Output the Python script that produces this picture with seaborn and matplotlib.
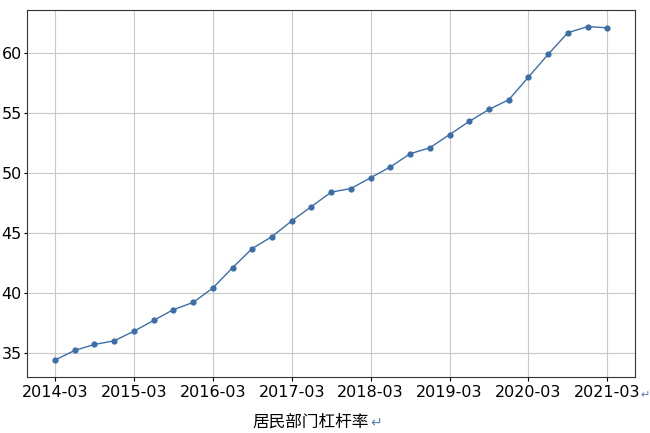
import pandas as pd
import matplotlib
matplotlib.use("Agg")
import matplotlib.pyplot as plt
import seaborn as sns

# ---- data ----
quarters = [
    "2014-03", "2014-06", "2014-09", "2014-12",
    "2015-03", "2015-06", "2015-09", "2015-12",
    "2016-03", "2016-06", "2016-09", "2016-12",
    "2017-03", "2017-06", "2017-09", "2017-12",
    "2018-03", "2018-06", "2018-09", "2018-12",
    "2019-03", "2019-06", "2019-09", "2019-12",
    "2020-03", "2020-06", "2020-09", "2020-12",
    "2021-03",
]
leverage = [
    34.4, 35.2, 35.7, 36.0,
    36.8, 37.7, 38.6, 39.2,
    40.4, 42.1, 43.7, 44.7,
    46.0, 47.2, 48.4, 48.7,
    49.6, 50.5, 51.6, 52.1,
    53.2, 54.3, 55.3, 56.1,
    58.0, 59.9, 61.7, 62.2,
    62.1,
]
tick_labels = ["2014-03", "2015-03", "2016-03", "2017-03",
               "2018-03", "2019-03", "2020-03", "2021-03"]

df = pd.DataFrame({"quarter": quarters, "leverage": leverage})
df["pos"] = range(len(df))

# ---- plot ----
fig, ax = plt.subplots(figsize=(6.5, 4.33), dpi=100)
sns.lineplot(data=df, x="pos", y="leverage", marker="o", color="#3c6ea8",
             linewidth=1, markersize=4.5, markeredgewidth=0, ax=ax)

tick_pos = [quarters.index(t) for t in tick_labels]
ax.set_xticks(tick_pos)
ax.set_xticklabels(tick_labels, fontsize=11.5)
ax.set_yticks([35, 40, 45, 50, 55, 60])
ax.tick_params(axis="y", labelsize=11.5, length=2, pad=2)
ax.tick_params(axis="x", length=3, pad=3)
ax.grid(True, color="#c8c8c8", linewidth=0.8)
ax.set_axisbelow(True)
for s in ax.spines.values():
    s.set_color("#333333")
    s.set_linewidth(0.8)

ax.set_ylabel("")
ax.set_xlabel("居民部门杠杆率", fontsize=12, family=["Noto Sans CJK SC", "DejaVu Sans"])
ax.xaxis.set_label_coords(0.467, -0.102)

plt.subplots_adjust(left=0.042, right=0.977, top=0.977, bottom=0.13)
# Word paragraph marks from the source document
fig.text(0.570, 0.022, "↵", color="#5b7fb8", fontsize=10, va="center", family="DejaVu Sans")
fig.text(0.986, 0.088, "↵", color="#5b7fb8", fontsize=8, va="center", family="DejaVu Sans")

fig.savefig("out.png", dpi=100)
